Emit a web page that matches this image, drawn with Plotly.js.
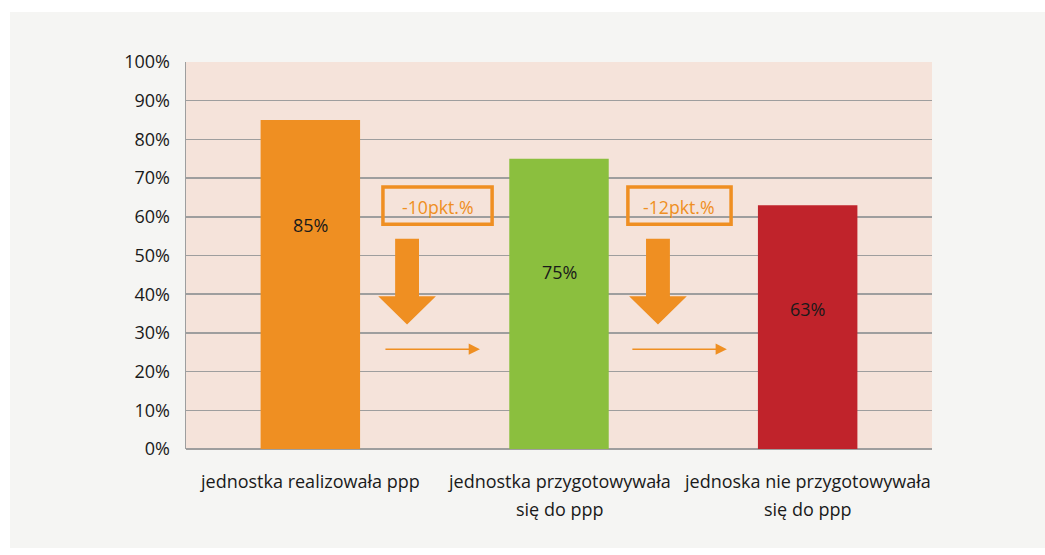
<!DOCTYPE html>
<html>
<head>
<meta charset="utf-8">
<script src="https://cdn.plot.ly/plotly-3.0.1.min.js"></script>
<style>
  html, body { margin: 0; padding: 0; background: #ffffff; }
  #chart { position: absolute; left: 10px; top: 12px; width: 1035px; height: 536px; }
</style>
</head>
<body>
<div id="chart"></div>
<script>
// Share of units by PPP status
const categories = [
  ['jednostka realizowała ppp'],
  ['jednostka przygotowywała', 'się do ppp'],
  ['jednoska nie przygotowywała', 'się do ppp']
];
const values = [85, 75, 63];
const barColors = ['#EF8F22', '#8BBF3E', '#C0232B'];
const valueLabelY = [58.0, 45.8, 36.2];
const yTickVals = [0, 10, 20, 30, 40, 50, 60, 70, 80, 90, 100];
const yTickText = yTickVals.map(v => v + '%');

const ORANGE = '#EF8F22';
const FONT = '"Open Sans", sans-serif';
const xs = categories.map((_, i) => i);

// placement of the drop markers between bars (x in axis units)
const gapMarks = [
  { box: [0.292, 0.731], arrow: 0.389, line: [0.296, 0.682] },
  { box: [1.277, 1.692], arrow: 1.398, line: [1.289, 1.675] }
];

const trace = {
  type: 'bar',
  x: xs,
  y: values,
  marker: { color: barColors },
  hoverinfo: 'skip'
};

const shapes = [];
const annotations = [];

// category labels under the axis, one annotation per line
categories.forEach((lines, i) => {
  lines.forEach((t, k) => {
    annotations.push({
      x: i, y: 0, xref: 'x', yref: 'paper',
      yanchor: 'middle', yshift: -32 - 28 * k,
      text: t, showarrow: false,
      font: { family: FONT, size: 18, color: '#1a1a1a' }
    });
  });
});

// value labels inside bars
values.forEach((v, i) => {
  annotations.push({
    x: i, y: valueLabelY[i], xref: 'x', yref: 'y',
    text: v + '%', showarrow: false,
    font: { family: FONT, size: 18, color: '#1a1a1a' }
  });
});

// drop markers between neighbouring bars
gapMarks.forEach((g, i) => {
  const diff = values[i + 1] - values[i];
  const bc = (g.box[0] + g.box[1]) / 2;
  // framed difference label
  shapes.push({
    type: 'rect', xref: 'x', yref: 'y',
    x0: g.box[0], x1: g.box[1], y0: 58.1, y1: 67.7,
    line: { color: ORANGE, width: 3.5 }, fillcolor: 'rgba(0,0,0,0)'
  });
  annotations.push({
    x: bc, y: 62.6, xref: 'x', yref: 'y',
    text: diff + 'pkt.%', showarrow: false,
    font: { family: FONT, size: 17.7, color: ORANGE }
  });
  // block arrow pointing down
  const a = g.arrow;
  const sx0 = a - 0.048, sx1 = a + 0.048, hx0 = a - 0.116, hx1 = a + 0.116;
  shapes.push({
    type: 'path', xref: 'x', yref: 'y',
    path: `M ${sx0} 54.3 L ${sx1} 54.3 L ${sx1} 39.5 L ${hx1} 39.5 L ${a} 32.2 L ${hx0} 39.5 L ${sx0} 39.5 Z`,
    fillcolor: ORANGE, line: { width: 0 }
  });
  // thin arrow pointing right
  annotations.push({
    x: g.line[1], y: 25.8, ax: g.line[0], ay: 25.8,
    xref: 'x', yref: 'y', axref: 'x', ayref: 'y',
    text: '', showarrow: true, arrowhead: 2, arrowsize: 1.5,
    arrowwidth: 1.5, arrowcolor: ORANGE, standoff: 0
  });
});

const layout = {
  width: 1035, height: 536,
  paper_bgcolor: '#F5F5F3',
  plot_bgcolor: '#F5E3DA',
  margin: { l: 176, r: 113, t: 50, b: 99 },
  showlegend: false,
  bargap: 0.6,
  xaxis: {
    range: [-0.5, 2.5],
    tickmode: 'array', tickvals: xs, ticktext: xs.map(() => ''),
    showgrid: false, zeroline: false,
    showline: false, ticks: ''
  },
  yaxis: {
    range: [0, 100],
    tickmode: 'array', tickvals: yTickVals, ticktext: yTickText,
    showgrid: true, gridcolor: '#9E9E9E', gridwidth: 1.5,
    zeroline: true, zerolinecolor: '#9E9E9E', zerolinewidth: 1.5,
    showline: true, linecolor: '#9E9E9E', linewidth: 1.5,
    ticks: '',
    tickfont: { family: FONT, size: 18, color: '#1a1a1a' },
    ticklabelstandoff: 11
  },
  shapes: shapes,
  annotations: annotations
};

Plotly.newPlot('chart', [trace], layout, { displayModeBar: false, staticPlot: true });
</script>
</body>
</html>
